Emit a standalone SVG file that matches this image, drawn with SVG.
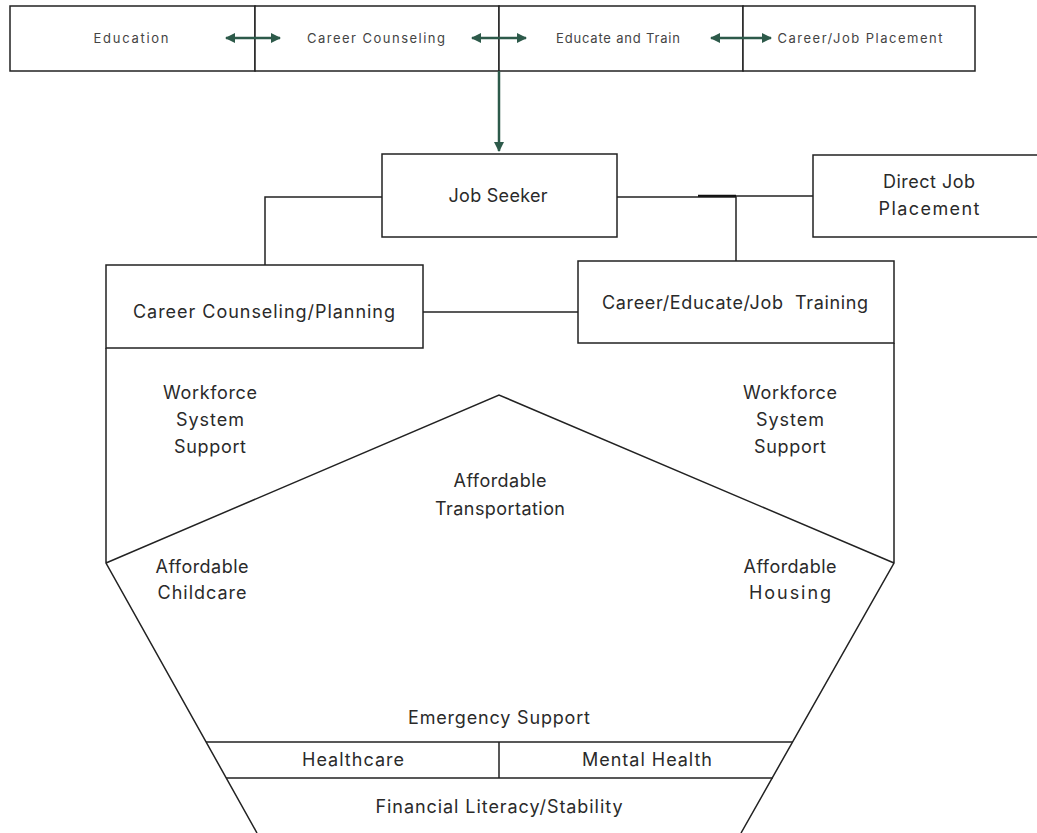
<svg xmlns="http://www.w3.org/2000/svg" width="1037" height="833" viewBox="0 0 1037 833">
<defs>
<style>
.box{fill:#fff;stroke:#222;stroke-width:1.5}
.ln{fill:none;stroke:#222;stroke-width:1.5}
.ga{fill:none;stroke:#2d5a4a;stroke-width:2.5}
.t{font-family:"Inter","Liberation Sans",sans-serif;font-size:18px;fill:#2a2a2a;text-anchor:middle}
.ts{font-family:"Inter","Liberation Sans",sans-serif;font-size:13px;fill:#444;text-anchor:middle}
</style>
<marker id="ah" viewBox="0 0 10 10" refX="9" refY="5" markerWidth="4.5" markerHeight="4" orient="auto-start-reverse" markerUnits="strokeWidth">
<path d="M0,0 L10,5 L0,10 Z" fill="#2d5a4a"/>
</marker>
</defs>
<rect width="1037" height="833" fill="#fff"/>

<g id="top-education"><rect class="box" x="10" y="6" width="245" height="65"/><text class="ts" x="131" y="43" textLength="75">Education</text></g>
<g id="top-career-counseling"><rect class="box" x="255" y="6" width="244" height="65"/><text class="ts" x="376" y="43" textLength="138">Career Counseling</text></g>
<g id="top-educate-train"><rect class="box" x="499" y="6" width="244" height="65"/><text class="ts" x="618" y="43" textLength="124">Educate and Train</text></g>
<g id="top-placement"><rect class="box" x="743" y="6" width="232" height="65"/><text class="ts" x="860" y="43" textLength="165">Career/Job Placement</text></g>

<g id="job-seeker"><rect class="box" x="382" y="154" width="235" height="83"/><text class="t" x="498" y="202" textLength="99">Job Seeker</text></g>
<g id="direct-job"><path class="box" d="M1040,155 H813 V237 H1040"/><text class="t" x="929" y="188" textLength="92">Direct Job</text><text class="t" x="929" y="215" textLength="101">Placement</text></g>
<g id="career-counseling-planning"><rect class="box" x="106" y="265" width="317" height="83"/><text class="t" x="264" y="318" textLength="262">Career Counseling/Planning</text></g>
<g id="career-training"><rect class="box" x="578" y="261" width="316" height="82"/><text class="t" x="735" y="309" textLength="266" xml:space="preserve">Career/Educate/Job  Training</text></g>

<g id="support-structure">
<path class="ln" d="M106,348 V563 L257,833 M894,343 V563 L741,833 M106,563 L499,395 L894,563"/>
<path class="ln" d="M206,742 H793 M226,778 H773 M499,742 V778"/>
<text class="t" x="210" y="399" textLength="94">Workforce</text>
<text class="t" x="210" y="426" textLength="68">System</text>
<text class="t" x="210" y="453" textLength="72">Support</text>
<text class="t" x="790" y="399" textLength="94">Workforce</text>
<text class="t" x="790" y="426" textLength="68">System</text>
<text class="t" x="790" y="453" textLength="72">Support</text>
<text class="t" x="500" y="487" textLength="93">Affordable</text>
<text class="t" x="500" y="515" textLength="130">Transportation</text>
<text class="t" x="202" y="573" textLength="93">Affordable</text>
<text class="t" x="202" y="599" textLength="89">Childcare</text>
<text class="t" x="790" y="573" textLength="93">Affordable</text>
<text class="t" x="790" y="599" textLength="82">Housing</text>
<text class="t" x="499" y="724" textLength="182">Emergency Support</text>
<text class="t" x="353" y="766" textLength="102">Healthcare</text>
<text class="t" x="647" y="766" textLength="130">Mental Health</text>
<text class="t" x="499" y="813" textLength="247">Financial Literacy/Stability</text>
</g>

<g id="connectors">
<line class="ga" x1="226" y1="38" x2="280" y2="38" marker-start="url(#ah)" marker-end="url(#ah)"/>
<line class="ga" x1="472" y1="38" x2="526" y2="38" marker-start="url(#ah)" marker-end="url(#ah)"/>
<line class="ga" x1="711" y1="38" x2="771" y2="38" marker-start="url(#ah)" marker-end="url(#ah)"/>
<line class="ga" x1="499" y1="71" x2="499" y2="151" marker-end="url(#ah)"/>
<path class="ln" d="M382,197 H265 V265"/>
<path class="ln" d="M423,312 H578"/>
<path class="ln" d="M617,197 H736 V261"/>
<path class="ln" d="M698,196 H813"/>
<path d="M698,195.8 H736" stroke="#111" stroke-width="2"/>
</g>
</svg>
